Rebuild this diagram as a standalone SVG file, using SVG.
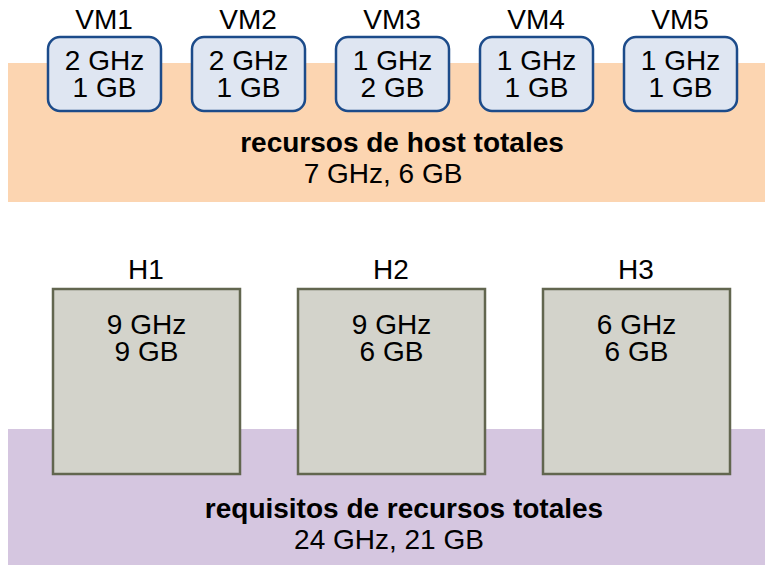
<svg xmlns="http://www.w3.org/2000/svg" width="765" height="565" viewBox="0 0 765 565">
<style>
text{font-family:"Liberation Sans",Arial,sans-serif;fill:#000;text-anchor:middle;font-size:28px}
.vm{fill:#dfe6f2;stroke:#1c4b8a;stroke-width:2.5}
.host{fill:#d3d3cb;stroke:#62664f;stroke-width:2.5}
.b{font-weight:bold}
</style>
<rect id="band-host" x="8" y="63" width="757" height="139" fill="#fcd5b1"/>
<rect id="band-req" x="8" y="429" width="757" height="136" fill="#d5c6e0"/>
<g id="VM1"><text x="104" y="29">VM1</text><rect class="vm" x="48" y="37" width="113" height="74" rx="12"/><text x="104.5" y="70">2 GHz</text><text x="104.5" y="97">1 GB</text></g>
<g id="VM2"><text x="248" y="29">VM2</text><rect class="vm" x="192" y="37" width="113" height="74" rx="12"/><text x="248.5" y="70">2 GHz</text><text x="248.5" y="97">1 GB</text></g>
<g id="VM3"><text x="392" y="29">VM3</text><rect class="vm" x="336" y="37" width="113" height="74" rx="12"/><text x="392.5" y="70">1 GHz</text><text x="392.5" y="97">2 GB</text></g>
<g id="VM4"><text x="536" y="29">VM4</text><rect class="vm" x="480" y="37" width="113" height="74" rx="12"/><text x="536.5" y="70">1 GHz</text><text x="536.5" y="97">1 GB</text></g>
<g id="VM5"><text x="680" y="29">VM5</text><rect class="vm" x="624" y="37" width="113" height="74" rx="12"/><text x="680.5" y="70">1 GHz</text><text x="680.5" y="97">1 GB</text></g>
<g id="host-total"><text class="b" x="402" y="152">recursos de host totales</text><text x="383" y="183">7 GHz, 6 GB</text></g>
<g id="H1"><text x="146" y="279">H1</text><rect class="host" x="53" y="289" width="187" height="185"/><text x="146.5" y="334">9 GHz</text><text x="146.5" y="361">9 GB</text></g>
<g id="H2"><text x="391" y="279">H2</text><rect class="host" x="298" y="289" width="187" height="185"/><text x="391.5" y="334">9 GHz</text><text x="391.5" y="361">6 GB</text></g>
<g id="H3"><text x="636" y="279">H3</text><rect class="host" x="543" y="289" width="187" height="185"/><text x="636.5" y="334">6 GHz</text><text x="636.5" y="361">6 GB</text></g>
<g id="req-total"><text class="b" x="404" y="518">requisitos de recursos totales</text><text x="389" y="549">24 GHz, 21 GB</text></g>
<g id="connectors"/>
</svg>
